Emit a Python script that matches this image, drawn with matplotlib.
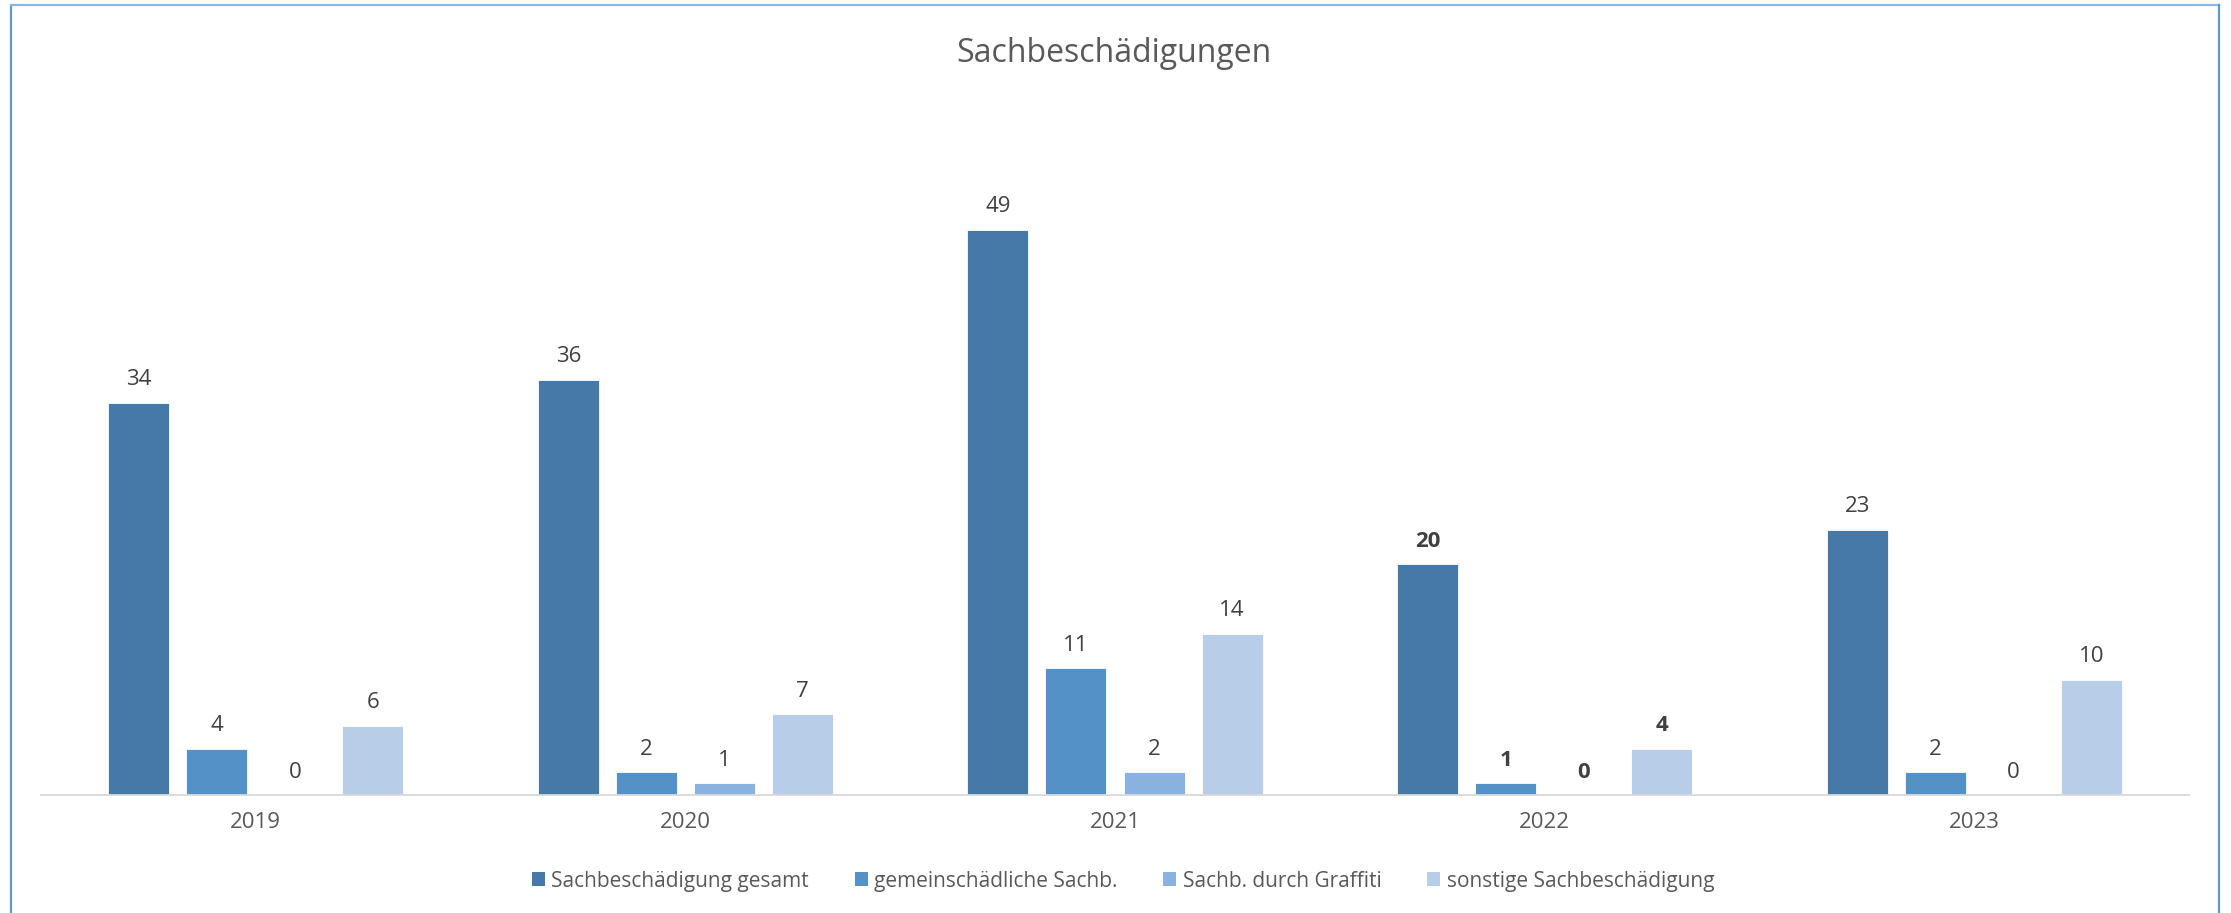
import matplotlib
matplotlib.use('Agg')
import matplotlib.pyplot as plt
import numpy as np
from matplotlib.lines import Line2D
from matplotlib.patches import Patch

plt.rcParams['font.family'] = ['Open Sans', 'DejaVu Sans']

years = ['2019', '2020', '2021', '2022', '2023']
series_names = ['Sachbeschädigung gesamt', 'gemeinschädliche Sachb.',
                'Sachb. durch Graffiti', 'sonstige Sachbeschädigung']
gesamt = [34, 36, 49, 20, 23]
gemeinschaedlich = [4, 2, 11, 1, 2]
graffiti = [0, 1, 2, 0, 0]
sonstige = [6, 7, 14, 4, 10]
series_values = [gesamt, gemeinschaedlich, graffiti, sonstige]
colors = ['#4679A8', '#5491C7', '#8AB2DE', '#B8CDE8']
bold_years = ['2022']
title = 'Sachbeschädigungen'

W, H = 2231, 913
fig = plt.figure(figsize=(W / 100, H / 100), dpi=100)
ax = fig.add_axes([41 / W, (H - 795) / H, (2189 - 41) / W, (795 - 103) / H])

x = np.arange(len(years))
width = 0.142
step = 0.1817
offsets = (np.arange(len(series_values)) - 1.5) * step

handles = []
for i, (vals, name, c) in enumerate(zip(series_values, series_names, colors)):
    ax.bar(x + offsets[i], vals, width, color=c, edgecolor='white',
           linewidth=0.6, zorder=2)
    handles.append(Patch(facecolor=c, edgecolor='none', label=name))
    for xi, v, yr in zip(x + offsets[i], vals, years):
        ax.annotate(str(v), (xi, v), xytext=(0, 16.5), textcoords='offset points',
                    ha='center', va='center', fontsize=16, color='#404040',
                    fontweight='bold' if yr in bold_years else 'normal')

ax.set_xlim(-0.5, len(years) - 0.5)
ax.set_ylim(0, 60)
for s in ['left', 'right', 'top']:
    ax.spines[s].set_visible(False)
ax.spines['bottom'].set_color('#D9D9D9')
ax.spines['bottom'].set_linewidth(1.3)
ax.spines['bottom'].set_zorder(3)
ax.set_yticks([])
ax.set_xticks(x, years)
ax.tick_params(axis='x', length=0, pad=12.5, labelsize=16, labelcolor='#595959')

fig.text(1114 / W, 1 - 53 / H, title, ha='center', va='center',
         fontsize=23, color='#595959')

fig.legend(handles=handles, loc='center', bbox_to_anchor=(1123 / W, 1 - 881 / H),
           ncol=4, frameon=False, fontsize=15, handlelength=0.63,
           handleheight=0.63, handletextpad=0.3, columnspacing=2.2,
           labelcolor='#595959')

# outer chart border
bc = '#5B9BD5'
fig.add_artist(Line2D([11 / W, 11 / W], [0, 1 - 5 / H], color=bc, lw=1.6,
                      transform=fig.transFigure))
fig.add_artist(Line2D([11 / W, 2219 / W], [1 - 5 / H, 1 - 5 / H], color='#8CB8E2', lw=1.6,
                      transform=fig.transFigure))
fig.add_artist(Line2D([2219 / W, 2219 / W], [0, 1 - 5 / H], color=bc, lw=1.6,
                      transform=fig.transFigure))

fig.savefig('out.png', dpi=100, facecolor='white')
